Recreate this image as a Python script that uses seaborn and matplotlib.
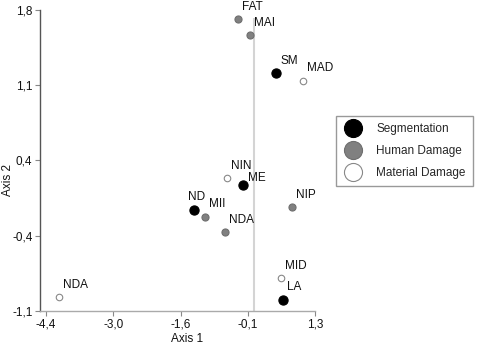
import numpy as np
import pandas as pd
import matplotlib
matplotlib.use('Agg')
import matplotlib.pyplot as plt
import seaborn as sns
from matplotlib.lines import Line2D

# point coordinates
labels = ['FAT', 'MAI', 'SM', 'MAD', 'NIN', 'ME', 'ND', 'MII', 'NDA', 'NIP', 'NDA', 'MID', 'LA']
axis1 = [-0.34, -0.08, 0.47, 1.04, -0.57, -0.23, -1.26, -1.03, -0.61, 0.81, -4.13, 0.57, 0.62]
axis2 = [1.71, 1.56, 1.19, 1.12, 0.18, 0.11, -0.13, -0.19, -0.34, -0.10, -0.97, -0.78, -0.99]
groups = ['Human Damage', 'Human Damage', 'Segmentation', 'Material Damage',
          'Material Damage', 'Segmentation', 'Segmentation', 'Human Damage',
          'Human Damage', 'Human Damage', 'Material Damage', 'Material Damage',
          'Segmentation']
categories = ['Segmentation', 'Human Damage', 'Material Damage']

xtick_labels = ['-4,4', '-3,0', '-1,6', '-0,1', '1,3']
ytick_labels = ['-1,1', '-0,4', '0,4', '1,1', '1,8']

df = pd.DataFrame({'label': labels, 'x': axis1, 'y': axis2, 'group': groups})

sns.set_style('white')
plt.rcParams['font.family'] = ['Liberation Sans', 'DejaVu Sans']

face = {'Segmentation': 'black', 'Human Damage': '#808080', 'Material Damage': 'white'}
edge = {'Segmentation': 'black', 'Human Damage': '#6e6e6e', 'Material Damage': '#888888'}
msize = {'Segmentation': 44, 'Human Damage': 26, 'Material Damage': 22}

fig = plt.figure(figsize=(4.81, 3.52), dpi=100)
ax = fig.add_axes([0.0832, 0.1165, 0.5717, 0.8551])

ax.vlines(0, -1.1, 1.72, color='#d4d4d4', lw=1.5, zorder=0)

for g in categories:
    sub = df[df['group'] == g]
    sns.scatterplot(data=sub, x='x', y='y', color=face[g], edgecolor=edge[g],
                    linewidth=0.8, s=msize[g], ax=ax, legend=False, zorder=3)

# label offsets in points (most sit above-right of the point)
offsets = {6: (-4.5, 5), 5: (3.5, 1)}
for i, row in df.iterrows():
    dx, dy = offsets.get(i, (3, 4.5))
    ax.annotate(row['label'], (row['x'], row['y']), xytext=(dx, dy),
                textcoords='offset points', fontsize=8.5, color='#111111',
                ha='left', va='bottom')

ax.set_xlim(-4.53, 1.3)
ax.set_ylim(-1.1, 1.8)
ax.set_xticks(np.linspace(-4.4, 1.3, 5))
ax.set_xticklabels(xtick_labels)
ax.set_yticks(np.linspace(-1.1, 1.8, 5))
ax.set_yticklabels(ytick_labels)
ax.tick_params(axis='both', labelsize=8.5, length=3.5, width=0.8,
               color='#888888', labelcolor='#111111', pad=2)
ax.tick_params(axis='x', bottom=True)
ax.tick_params(axis='y', left=True)

for side in ['top', 'right']:
    ax.spines[side].set_visible(False)
ax.spines['left'].set_color('#555555')
ax.spines['bottom'].set_color('#aaaaaa')
ax.spines['left'].set_linewidth(1)
ax.spines['bottom'].set_linewidth(1)

ax.set_xlabel('Axis 1', fontsize=8.5, color='#111111')
ax.set_ylabel('Axis 2', fontsize=8.5, color='#111111')
ax.xaxis.set_label_coords(0.535, -0.072)
ax.yaxis.set_label_coords(-0.095, 0.435)

handles = [Line2D([], [], marker='o', ls='', markersize=13,
                  markerfacecolor=face[g], markeredgecolor=edge[g],
                  markeredgewidth=0.8) for g in categories]
leg = fig.legend(handles, categories, loc='upper left',
                 bbox_to_anchor=(0.699, 0.670), bbox_transform=fig.transFigure,
                 frameon=True, fancybox=False, framealpha=1, fontsize=8.5,
                 borderaxespad=0, borderpad=0.6, handlelength=1.6,
                 handletextpad=1.2, labelspacing=0.85)
leg.get_frame().set_edgecolor('#999999')
leg.get_frame().set_linewidth(1)

fig.savefig('out.png', dpi=100)
